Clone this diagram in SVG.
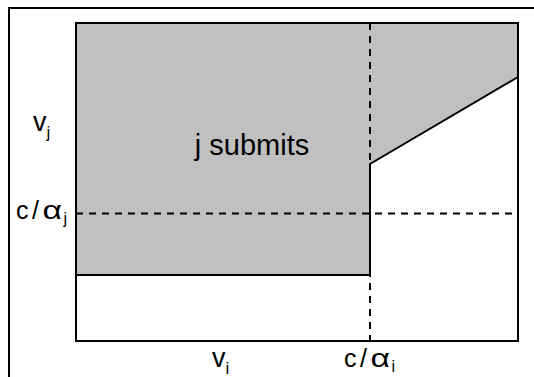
<svg xmlns="http://www.w3.org/2000/svg" width="534" height="377" viewBox="0 0 534 377">
<style>
.ln{fill:none;stroke:#000;stroke-width:2}
.ds{fill:none;stroke:#000;stroke-width:2;stroke-dasharray:7 6}
.t{font-family:"Liberation Sans",Arial,sans-serif;fill:#000}
.a{font-family:"Liberation Sans",Arial,sans-serif;fill:#000;font-size:25px}
</style>
<rect width="534" height="377" fill="#fff"/>
<rect class="ln" x="9" y="8" width="600" height="420"/>
<g id="region">
<polygon points="76,23 518,23 518,77 370,164 370,275 76,275" fill="#c0c0c0"/>
<rect class="ln" x="76" y="23" width="442" height="318"/>
<polyline class="ln" points="76,275 370,275 370,164 518,77"/>
</g>
<g id="connectors">
<line class="ds" x1="370" y1="23" x2="370" y2="341"/>
<line class="ds" x1="76" y1="213.5" x2="518" y2="213.5"/>
</g>
<g id="labels">
<text class="t" x="252" y="155" font-size="29" text-anchor="middle">j submits</text>
<text class="t" x="33" y="131" font-size="27">v<tspan font-size="17" dy="7">j</tspan></text>
<g id="c-alpha-j">
<text class="t" x="16" y="218.5" font-size="25">c</text>
<text class="t" x="32" y="218.5" font-size="25">/</text>
<text class="a" transform="translate(42.5,218.5) scale(1.35,1)">α</text>
<text class="t" x="63.5" y="224" font-size="16">j</text>
</g>
<text class="t" x="212" y="367" font-size="27">v<tspan font-size="17" dy="7">i</tspan></text>
<g id="c-alpha-i">
<text class="t" x="344" y="366.5" font-size="25">c</text>
<text class="t" x="360" y="366.5" font-size="25">/</text>
<text class="a" transform="translate(370.5,366.5) scale(1.35,1)">α</text>
<text class="t" x="391.5" y="372" font-size="16">i</text>
</g>
</g>
</svg>
